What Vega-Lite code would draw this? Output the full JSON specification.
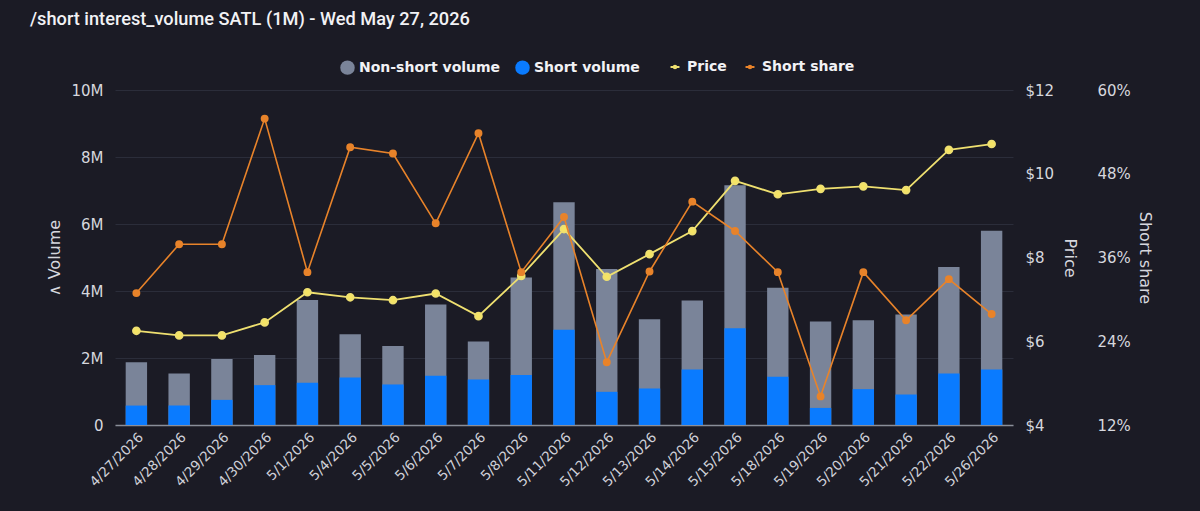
{
  "$schema": "https://vega.github.io/schema/vega-lite/v6.json",
  "autosize": "none",
  "width": 898,
  "height": 335,
  "padding": {"left": 115, "top": 90, "right": 187, "bottom": 86},
  "background": "#1b1b25",
  "title": {
    "text": "/short interest_volume SATL (1M) - Wed May 27, 2026",
    "anchor": "start",
    "frame": "group",
    "dx": -85,
    "offset": 31,
    "font": "Roboto",
    "fontSize": 18.2,
    "fontWeight": 500,
    "color": "#f2f2f5"
  },
  "data": {
    "values": [
      {"date": "4/27/2026", "volume": 1870000, "short": 580000, "price": 6.25, "short_share": 30.9},
      {"date": "4/28/2026", "volume": 1540000, "short": 580000, "price": 6.14, "short_share": 37.9},
      {"date": "4/29/2026", "volume": 1970000, "short": 750000, "price": 6.14, "short_share": 37.9},
      {"date": "4/30/2026", "volume": 2090000, "short": 1190000, "price": 6.45, "short_share": 55.9},
      {"date": "5/1/2026", "volume": 3730000, "short": 1260000, "price": 7.17, "short_share": 33.9},
      {"date": "5/4/2026", "volume": 2710000, "short": 1420000, "price": 7.05, "short_share": 51.8},
      {"date": "5/5/2026", "volume": 2360000, "short": 1210000, "price": 6.98, "short_share": 50.9},
      {"date": "5/6/2026", "volume": 3600000, "short": 1470000, "price": 7.14, "short_share": 40.9},
      {"date": "5/7/2026", "volume": 2490000, "short": 1360000, "price": 6.6, "short_share": 53.8},
      {"date": "5/8/2026", "volume": 4400000, "short": 1490000, "price": 7.56, "short_share": 33.9},
      {"date": "5/11/2026", "volume": 6650000, "short": 2840000, "price": 8.68, "short_share": 41.8},
      {"date": "5/12/2026", "volume": 4660000, "short": 990000, "price": 7.54, "short_share": 21.0},
      {"date": "5/13/2026", "volume": 3160000, "short": 1090000, "price": 8.08, "short_share": 34.0},
      {"date": "5/14/2026", "volume": 3720000, "short": 1660000, "price": 8.63, "short_share": 44.0},
      {"date": "5/15/2026", "volume": 7160000, "short": 2890000, "price": 9.83, "short_share": 39.8},
      {"date": "5/18/2026", "volume": 4100000, "short": 1440000, "price": 9.51, "short_share": 33.9},
      {"date": "5/19/2026", "volume": 3090000, "short": 510000, "price": 9.64, "short_share": 16.1},
      {"date": "5/20/2026", "volume": 3130000, "short": 1070000, "price": 9.7, "short_share": 33.9},
      {"date": "5/21/2026", "volume": 3300000, "short": 910000, "price": 9.61, "short_share": 27.0},
      {"date": "5/22/2026", "volume": 4720000, "short": 1540000, "price": 10.57, "short_share": 32.9},
      {"date": "5/26/2026", "volume": 5800000, "short": 1660000, "price": 10.71, "short_share": 27.9}
    ]
  },
  "layer": [
    {
      "layer": [
        {
          "mark": {"type": "bar"},
          "encoding": {
            "x": {"field": "date", "type": "nominal", "sort": null, "scale": {"paddingInner": 0.5, "paddingOuter": 0.25},
              "axis": {"labelAngle": -45, "labelFontSize": 13.5, "labelColor": "#cfd0d8", "ticks": false, "domain": true, "domainColor": "#8a8e99", "domainWidth": 1.5, "title": null, "labelPadding": 5, "grid": false}},
            "y": {"field": "volume", "type": "quantitative", "scale": {"domain": [0, 10000000]},
              "axis": {"title": "∧ Volume", "orient": "left", "values": [0, 2000000, 4000000, 6000000, 8000000, 10000000],
                "labelExpr": "datum.value == 0 ? '0' : (datum.value / 1000000) + 'M'", "labelFontSize": 15, "titleFontSize": 16, "labelPadding": 12, "titlePadding": 8, "grid": true}},
            "fill": {"datum": "Non-short volume", "type": "nominal",
              "scale": {"domain": ["Non-short volume", "Short volume"], "range": ["#7a8499", "#0a7bff"]},
              "legend": {"orient": "none", "legendX": 225, "legendY": -30, "direction": "horizontal", "title": null, "symbolType": "circle", "symbolSize": 210, "symbolStrokeWidth": 0, "labelFontSize": 14, "labelFontWeight": "bold", "labelColor": "#f2f2f5", "labelFont": "DejaVu Sans", "columnPadding": 14, "labelOffset": 4}}
          }
        },
        {
          "mark": {"type": "bar"},
          "encoding": {
            "x": {"field": "date", "type": "nominal", "sort": null},
            "y": {"field": "short", "type": "quantitative"},
            "fill": {"datum": "Short volume", "type": "nominal"}
          }
        }
      ]
    },
    {
      "mark": {"type": "line", "strokeWidth": 1.8, "point": {"filled": true, "size": 45, "fill": "#f5e464"}},
      "encoding": {
        "x": {"field": "date", "type": "nominal", "sort": null},
        "y": {"field": "price", "type": "quantitative", "scale": {"domain": [4, 12]},
          "axis": {"title": "Price", "orient": "right", "values": [4, 6, 8, 10, 12], "labelExpr": "'$' + datum.value", "labelFontSize": 15, "titleFontSize": 16, "labelPadding": 12, "titlePadding": 8, "grid": false}},
        "stroke": {"datum": "Price", "type": "nominal",
          "scale": {"domain": ["Price", "Short share"], "range": ["#efe070", "#e8832a"]},
          "legend": {"orient": "none", "legendX": 553, "legendY": -30, "direction": "horizontal", "title": null, "symbolType": "M-1,0L1,0M-0.3,0A0.3,0.3,0,1,1,0.3,0A0.3,0.3,0,1,1,-0.3,0", "symbolSize": 80, "symbolStrokeWidth": 1.8, "labelFontSize": 14, "labelFontWeight": "bold", "labelColor": "#f2f2f5", "labelFont": "DejaVu Sans", "columnPadding": 14, "labelOffset": 5}}
      }
    },
    {
      "mark": {"type": "line", "strokeWidth": 1.6, "point": {"filled": true, "size": 35, "fill": "#e8832a"}},
      "encoding": {
        "x": {"field": "date", "type": "nominal", "sort": null},
        "y": {"field": "short_share", "type": "quantitative", "scale": {"domain": [12, 60]},
          "axis": {"title": "Short share", "orient": "right", "offset": 72, "values": [12, 24, 36, 48, 60], "labelExpr": "datum.value + '%'", "labelFontSize": 15, "titleFontSize": 16, "labelPadding": 12, "titlePadding": 6, "grid": false}},
        "stroke": {"datum": "Short share", "type": "nominal"}
      }
    }
  ],
  "resolve": {"scale": {"y": "independent"}},
  "config": {
    "view": {"stroke": null},
    "axis": {
      "labelFont": "DejaVu Sans",
      "titleFont": "DejaVu Sans",
      "labelColor": "#d6d7de",
      "titleColor": "#d6d7de",
      "titleFontWeight": "normal",
      "domain": false,
      "ticks": false,
      "gridColor": "#2b2d3a",
      "gridWidth": 1
    }
  }
}
